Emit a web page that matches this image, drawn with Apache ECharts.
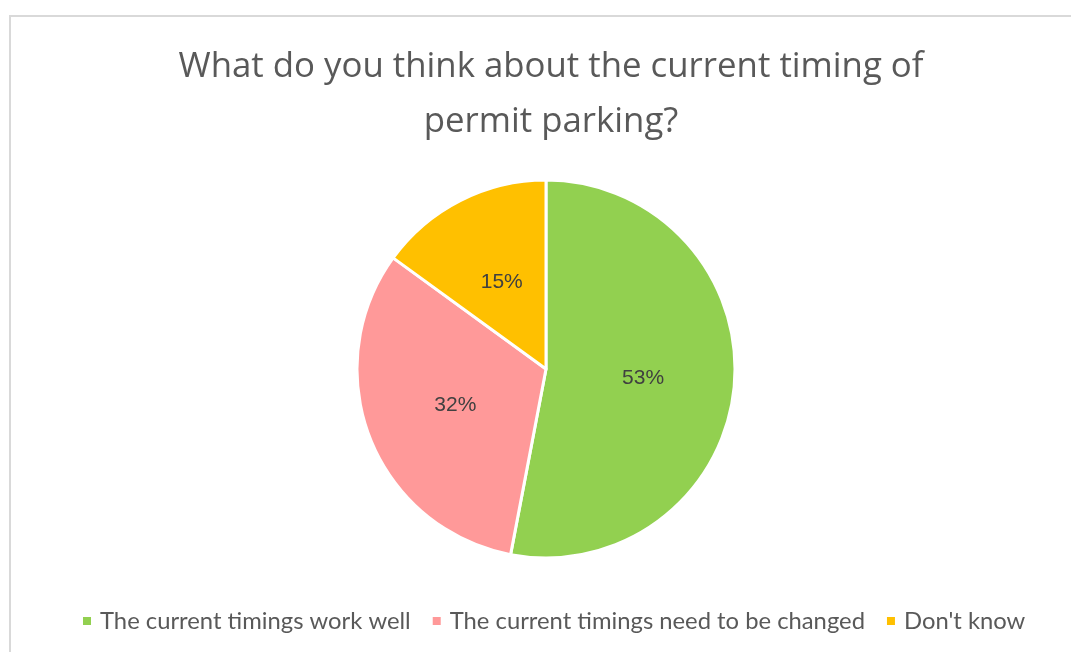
<!DOCTYPE html>
<html>
<head>
<meta charset="utf-8">
<script src="https://cdn.jsdelivr.net/npm/echarts@6/dist/echarts.min.js"></script>
<style>
  html, body { margin: 0; padding: 0; background: #fff; overflow: hidden; }
  #frame {
    position: absolute; left: 9px; top: 15px;
    width: 1100px; height: 700px;
    border: 2px solid #d9d9d9; box-sizing: border-box;
  }
  #chart { position: absolute; left: 0; top: 0; width: 1071px; height: 652px; }
</style>
</head>
<body>
<div id="frame"></div>
<div id="chart"></div>
<script>
// 分类与数值
const categories = [
  "The current timings work well",
  "The current timings need to be changed",
  "Don't know",
];
const values = [53, 32, 15];
const colors = ["#92D050", "#FF9999", "#FFC000"];

const chart = echarts.init(document.getElementById("chart"));
const option = {
  title: {
    text: "What do you think about the current timing of\npermit parking?",
    left: 546,
    textAlign: "center",
    top: 35,
    textStyle: {
      fontFamily: "Open Sans",
      fontWeight: "normal",
      fontSize: 34.8,
      lineHeight: 55,
      color: "#595959",
    },
  },
  legend: {
    top: 604,
    left: 76,
    icon: "rect",
    itemWidth: 10,
    itemHeight: 10,
    itemGap: 20,
    textStyle: {
      fontFamily: "Lato",
      fontSize: 23.8,
      color: "#595959",
      padding: [0, 0, 0, 3],
    },
    data: categories,
  },
  series: [
    {
      type: "pie",
      center: [546, 369],
      radius: 189,
      startAngle: 90,
      clockwise: true,
      color: colors,
      itemStyle: { borderColor: "#fff", borderWidth: 3 },
      label: {
        position: "inside",
        formatter: "{c}%",
        fontFamily: "Liberation Sans",
        fontSize: 21,
        color: "#404040",
      },
      labelLine: { show: false },
      emphasis: { disabled: true },
      data: categories.map((name, i) => ({ name, value: values[i] })),
    },
  ],
};
chart.setOption(option);
</script>
</body>
</html>
